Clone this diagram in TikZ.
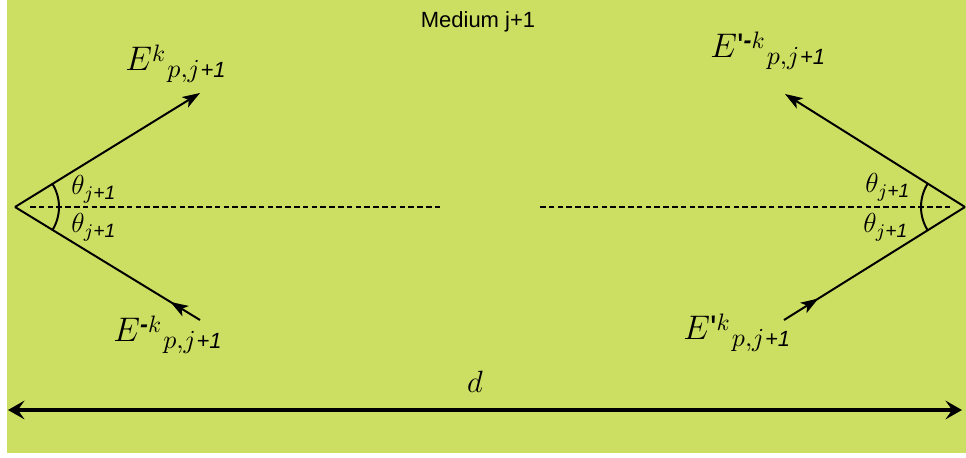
\RequirePackage{fix-cm}
\documentclass[tikz,border=0pt]{standalone}
\usepackage{amsmath}
\usepackage{fontspec}
\newfontfamily\arial{Liberation Sans}
\usetikzlibrary{arrows.meta,decorations.markings,calc}
\definecolor{bg}{RGB}{205,223,98}
\newcommand{\sfi}[1]{\text{\arial\itshape #1}}
\newcommand{\supfont}{\fontsize{10.8}{13}\selectfont}
\newcommand{\subfont}{\fontsize{11.8}{14}\selectfont}
\newcommand{\negmark}{{\arial\bfseries\itshape -}}
% E-label: #1 mark after E, #2 superscript
\newcommand{\elabtext}[2]{{\fontsize{15.5}{18}\selectfont$E$#1}%
\raisebox{4.1pt}{\supfont #2}\kern1pt
\raisebox{-2.9pt}{\subfont$p{,}j$\kern0.3pt{\fontsize{10}{12}\selectfont\arial\itshape +1}}}
\tikzset{
  vec/.style={line width=0.9pt},
  tipA/.style={-{Stealth[length=8pt,width=5.5pt,inset=2pt]}},
  midarrow/.style={postaction={decorate},decoration={markings,mark=at position #1 with {\arrow{Stealth[length=8pt,width=5.5pt,inset=2pt]}}}},
  axis/.style={line width=0.7pt,dash pattern=on 2.5pt off 1.5pt},
  elabel/.style={anchor=base west,inner sep=0pt},
  thlabel/.style={anchor=base west,inner sep=0pt,font=\fontsize{12.5}{15}\selectfont},
}
\begin{document}
\begin{tikzpicture}[x=0.4545pt,y=-0.4545pt]
\useasboundingbox (0,0) rectangle (966,458);
\fill[bg] (7,0) rectangle (966,453);
% vertices and ends
\coordinate (L) at (15,207);
\coordinate (A) at (200,93);
\coordinate (B) at (200,320);
\coordinate (R) at (965,207);
\coordinate (C) at (785,94);
\coordinate (D) at (784,320);
\coordinate (LA) at (30,207);
\coordinate (LB) at (443,207);
\coordinate (RA) at (540,207);
\coordinate (RB) at (952,207);
\coordinate (dl) at (8,410);
\coordinate (dr) at (962,410);
% title
\node[font=\arial\normalsize] (title) at (478,22) {Medium j+1};
% dashed axis
\draw[axis] (LA) -- (LB);
\draw[axis] (RA) -- (RB);
% left rays
\draw[vec,tipA] (L) -- (A);
\draw[vec,midarrow=0.16] (B) -- (L);
\draw[vec] ($(L)+(-31.5:44)$) arc[start angle=-31.5,end angle=31.5,radius=44];
% right rays
\draw[vec,tipA] (R) -- (C);
\draw[vec,midarrow=0.19] (D) -- (R);
\draw[vec] ($(R)+(211.5:44)$) arc[start angle=211.5,end angle=148.5,radius=44];
% labels
\node[elabel] (e1) at (125,71) {\elabtext{}{$k$}};
\node[elabel] (e2) at (113,342) {\elabtext{}{\negmark$k$}};
\node[elabel] (e3) at (710,58) {\elabtext{{\arial '}}{\negmark$k$}};
\node[elabel] (e4) at (683,340) {\elabtext{{\arial '}}{$k$}};
\node[thlabel] (t1) at (71,195) {$\theta_{j\sfi{+1}}$};
\node[thlabel] (t2) at (71,233) {$\theta_{j\sfi{+1}}$};
\node[thlabel] (t3) at (865,193) {$\theta_{j\sfi{+1}}$};
\node[thlabel] (t4) at (863,233) {$\theta_{j\sfi{+1}}$};
\node[font=\fontsize{14}{16}\selectfont] (dlab) at (475,382) {$d$};
% distance arrow
\draw[line width=1.4pt,{Stealth[length=7.5pt,width=8.5pt,inset=3pt]}-{Stealth[length=7.5pt,width=8.5pt,inset=3pt]}] (dl) -- (dr);
\end{tikzpicture}
\end{document}
